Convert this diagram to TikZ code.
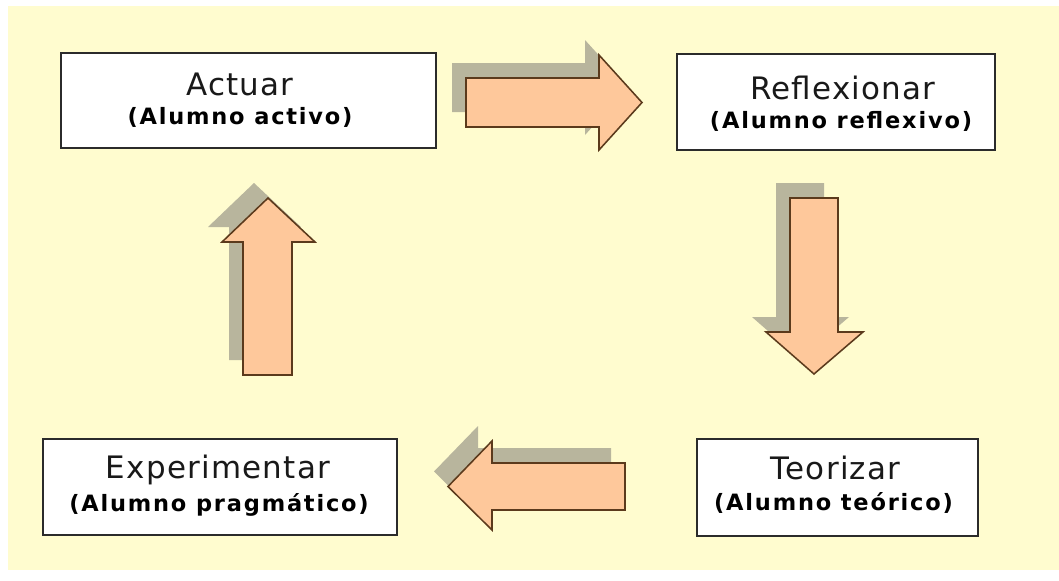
\documentclass[tikz,border=0pt]{standalone}
\usepackage{fontspec}
\setmainfont{DejaVu Sans}
\newfontfamily\titfuente[LetterSpace=4]{DejaVu Sans}
\newfontfamily\subfuente[LetterSpace=8]{DejaVu Sans}

\definecolor{fondo}{HTML}{FFFCCF}
\definecolor{borde}{HTML}{2B2B2B}
\definecolor{durazno}{HTML}{FEC89B}
\definecolor{cafe}{HTML}{5B3A1C}
\definecolor{sombra}{HTML}{B8B59D}

\begin{document}
\begin{tikzpicture}[x=0.025cm,y=-0.025cm,
    caja/.style={draw=borde,fill=white,line width=1.1pt,inner sep=0pt,outer sep=0pt},
    titulo/.style={anchor=base,inner sep=0pt,text=black!90,font=\titfuente\fontsize{22}{24}\selectfont},
    subtitulo/.style={anchor=base,inner sep=0pt,text=black,font=\subfuente\bfseries\fontsize{16}{18}\selectfont},
    flecha/.style={fill=durazno,draw=cafe,line width=1.1pt,line join=miter,
      preaction={fill=sombra,draw=none,transform canvas={shift={(-14,-15)}}}}]
    \useasboundingbox (0,0) rectangle (1059,580);
    \fill[fondo] (8,6) rectangle (1059,570);

    % cajas
    \node[caja,minimum width=9.375cm,minimum height=2.375cm](act)at(248.5,100.5){};
    \node[caja,minimum width=7.95cm,minimum height=2.4cm](refl)at(836,102){};
    \node[caja,minimum width=7.025cm,minimum height=2.425cm](teo)at(837.5,487.5){};
    \node[caja,minimum width=8.85cm,minimum height=2.4cm](exp)at(220,487){};

    \node[titulo](actT)at(240,95){Actuar};
    \node[subtitulo](actS)at(240,124){(Alumno activo)};
    \node[titulo](reflT)at(843,99){Reflexionar};
    \node[subtitulo](reflS)at(841,128){(Alumno reflexivo)};
    \node[titulo](teoT)at(835.5,479){Teorizar};
    \node[subtitulo](teoS)at(833.5,510){(Alumno teórico)};
    \node[titulo](expT)at(218,478){Experimentar};
    \node[subtitulo](expS)at(219,511){(Alumno pragmático)};

    % flechas
    \draw[flecha] (466,78) -- (599,78) -- (599,55) -- (642,102.5) -- (599,150) -- (599,127) -- (466,127) -- cycle;
    \draw[flecha] (790,198) -- (838,198) -- (838,332) -- (863,332) -- (814,374) -- (766,332) -- (790,332) -- cycle;
    \draw[flecha] (625,463) -- (625,510) -- (492,510) -- (492,530) -- (448,486.5) -- (492,441) -- (492,463) -- cycle;
    \draw[flecha] (243,375) -- (243,242) -- (222,242) -- (268,198) -- (315,242) -- (292,242) -- (292,375) -- cycle;
  \end{tikzpicture}
\end{document}
